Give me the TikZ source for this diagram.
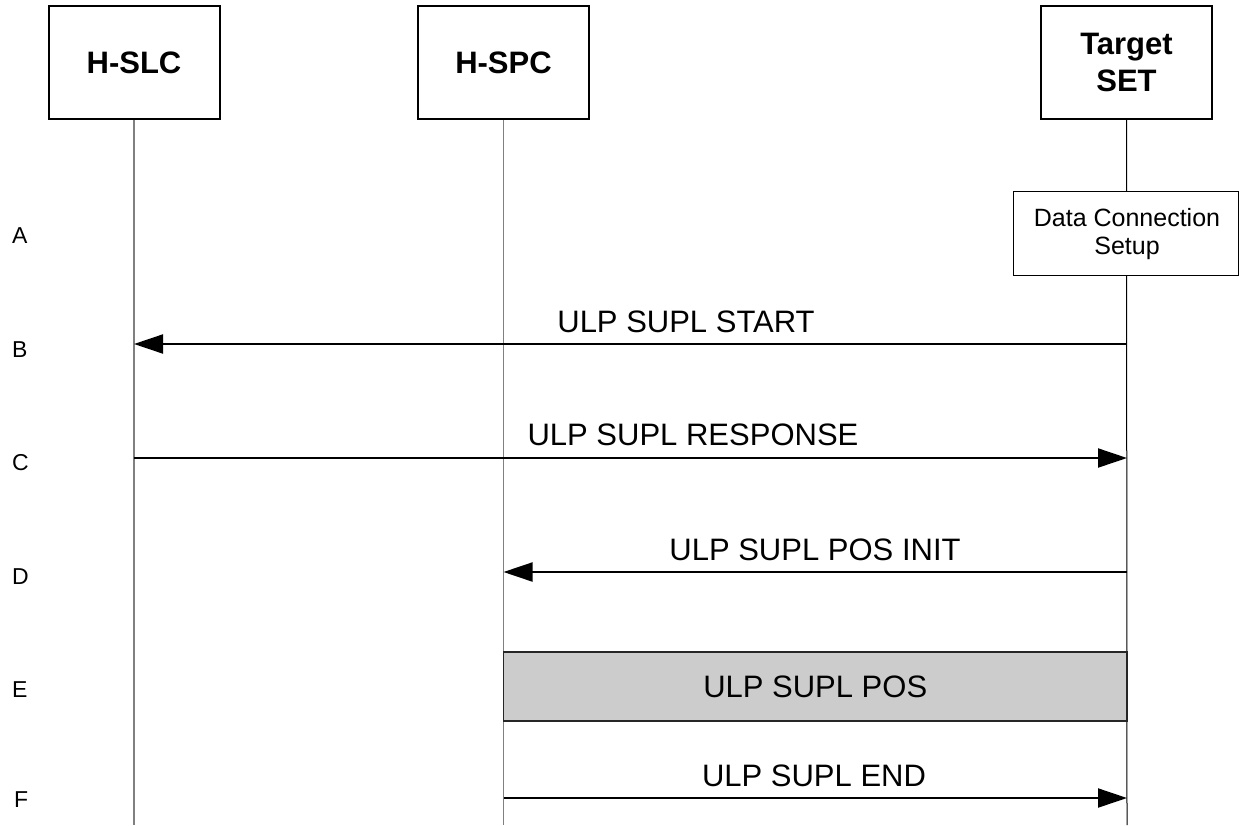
\documentclass[tikz,border=0pt]{standalone}
\usepackage{fontspec}
\setmainfont{Liberation Sans}
\usetikzlibrary{arrows.meta,positioning}
\tikzset{
  headbox/.style={draw=black, line width=2pt, minimum width=171pt, minimum height=113pt, inner sep=0pt, align=center, font=\fontsize{31}{37}\selectfont\bfseries},
  lifegray/.style={draw=black!50, line width=1.3pt},
  lifeblack/.style={draw=black, line width=1pt},
  msg/.style={draw=black, line width=2pt, -{Triangle[length=29pt,width=19pt]}},
  msglabel/.style={anchor=base, inner sep=0pt, font=\fontsize{31}{36}\selectfont},
  steplabel/.style={anchor=west, inner sep=0pt, font=\fontsize{23}{27}\selectfont},
  procbox/.style={draw=black, line width=1pt, fill=white, inner sep=0pt, align=center, font=\fontsize{25}{28}\selectfont},
  posbox/.style={draw=black!85, line width=1.5pt, fill=black!20, inner sep=0pt, font=\fontsize{31}{36}\selectfont}
}
\begin{document}
\begin{tikzpicture}[x=1pt,y=-1pt]
\useasboundingbox (0,0) rectangle (1239,825);
% header boxes
\node[headbox] (slc) at (134,62.5) {H-SLC};
\node[headbox] (spc) at (503.5,62.5) {H-SPC};
\node[headbox] (tgt) at (1126.5,62.5) {Target\\SET};
% lifeline ends
\coordinate (slcEnd) at (134,825);
\coordinate (spcEnd) at (503.5,825);
\coordinate (tgtEnd) at (1127,825);
\draw[lifegray] (slc.south) -- (slcEnd);
\draw[lifegray] (spc.south) -- (spcEnd);
\draw[lifeblack] (tgt.south) -- (tgtEnd);
% data connection setup box
\node[procbox, minimum width=225pt, minimum height=84pt] (dcs) at (1125.5,233) {};
\node[procbox, draw=none, fill=none] (dcstext) at (1127,234) {Data Connection\\Setup};
% message end points
\coordinate (tB) at (1127,344);
\coordinate (sB) at (134,344);
\coordinate (sC) at (134,458);
\coordinate (tC) at (1127,458);
\coordinate (tD) at (1127,572);
\coordinate (pD) at (503.5,572);
\coordinate (pF) at (503.5,798);
\coordinate (tF) at (1127,798);
% messages
\draw[msg] (tB) -- (sB);
\node[msglabel] (lB) at (686,332) {ULP SUPL START};
\draw[msg] (sC) -- (tC);
\node[msglabel] (lC) at (693,445) {ULP SUPL RESPONSE};
\draw[msg] (tD) -- (pD);
\node[msglabel] (lD) at (815,560) {ULP SUPL POS INIT};
\node[posbox, minimum width=623.5pt, minimum height=69pt] (pos) at (815.25,686.5) {ULP SUPL POS};
\draw[msg] (pF) -- (tF);
\node[msglabel] (lF) at (814,786) {ULP SUPL END};
% step letters
\node[steplabel] (A) at (12,236) {A};
\node[steplabel] (B) at (12,350) {B};
\node[steplabel] (C) at (12,463) {C};
\node[steplabel] (D) at (12,577) {D};
\node[steplabel] (E) at (12,690) {E};
\node[steplabel] (F) at (14,800) {F};
\end{tikzpicture}
\end{document}
